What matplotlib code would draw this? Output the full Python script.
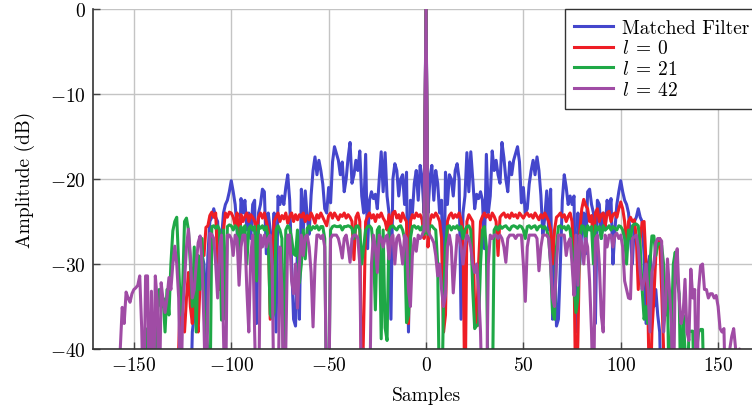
import matplotlib
matplotlib.use("Agg")
import matplotlib.pyplot as plt
import numpy as np

F = -48.0  # below the visible range (clipped at the axis bottom)

# ---------------- data (sample index start, values) ----------------
mf_start = -121
mf_vals = [F,
    -38, -36, -33, -35, -31, -29, -30, -37, -29, -25,
    -24.5, -23.5, -24.5, -25, -30, -27, -24, -23, -22.5, -21.5,
    -20.2, -21.5, -23, -26, -30, -22.3, -24, -22.5, -26, -24,
    -27, -23, -22.5, -37, -24, -23, -21.2, -21.5, -28.8, -24,
    -26, -30, -24, -38, -22, -23, -22, -23, -21, -19.5,
    -22.5, -30, -36.5, -37.3, -28, -36.5, -21.2, -26, -21.4, -24.5,
    -26.5, -21.9, -19, -17.4, -19.5, -17.8, -19, -20.6, -23.5, -24,
    -21, -22.8, -18, -16.2, -17, -17.8, -19.5, -18, -21.5, -20,
    -17.5, -15.7, -20.5, -19.5, -17.8, -19, -16.7, -22, -24, -17.1,
    -28.2, -22.5, -21.5, -22.3, -21.8, -23.5, -20, -16.8, -21.5, -16.9,
    -22, -24, -36.5, -20, -18.2, -19, -22, -20, -19.5, -23,
    -19.2, -38, -22.5, -24, -20.5, -19, -22.5, -18.4, -20, -24,
    0,
    -24, -20, -18.4, -22.5, -19, -20.5, -24, -22.5, -38, -19.2,
    -23, -19.5, -20, -22, -19, -18.2, -20, -36.5, -24, -22,
    -16.9, -21.5, -16.8, -20, -23.5, -21.8, -22.3, -21.5, -22.5, -28.2,
    -17.1, -24, -22, -16.7, -19, -17.8, -19.5, -20.5, -15.7, -17.5,
    -20, -21.5, -18, -19.5, -17.8, -17, -16.2, -18, -22.8, -21,
    -24, -23.5, -20.6, -19, -17.8, -19.5, -17.4, -19, -21.9, -26.5,
    -24.5, -21.4, -26, -21.2, -36.5, -28, -37.3, -36.5, -30, -22.5,
    -19.5, -21, -23, -22, -23, -22, -38, -24, -30, -26,
    -24, -28.8, -21.5, -21.2, -23, -24, -37, -22.5, -23, -27,
    -24, -26, -22.5, -24, -22.3, -30, -26, -23, -21.5, -20.2,
    -21.5, -22.5, -23, -24, -27, -30, -25, -24.5, -23.5, -24.5,
    -25, -29, -37, -30, -29, -31, -35, -33, -36, -38,
    F]

l0_start = -128
l0_vals = [F,
    -40, -33, -36, -38, -34, -31, -35, -37, -33, -36,
    -38, -32, -29, -29, -25.7, -25.5, -24.3, -23.9, -24.5, -24,
    -30, -33, -29, -26, -24, -24.5, -23.9, -24, -24.5, -25.5,
    -24, -28, -24.2, -25, -24.4, -24, -25, -24.2, -24.5, -25,
    -26, -24.5, -24, -24.6, -24, -25, -26, -36.5, -30, -25,
    -24.5, -24, -25, -24.3, -24.7, -24, -25.2, -24.4, -24, -25,
    -24.2, -24.8, -24.2, -24.5, -24, -25, -24.3, -24.8, -24, -24.5,
    -25.2, -24.2, -24.6, -24, -24.5, -25, -25.5, -24.3, -24, -24.6,
    -24, -24.4, -24.8, -24.2, -24.4, -24, -24.6, -24.2, -24.5, -25,
    -29.5, -24.5, -24, -25, F, -37, -25, -24.4, -24, -24.6,
    -24.2, -25, -24.2, -24.5, -24, -24.6, -25, -26, -24.2, -25.5,
    -24, -23.8, -24.6, -24.2, -25, -24, -24.6, -25, -37, -25,
    -24.2, -24.6, -24, -24.4, -24.2, -24.8, -27,
    0,
    -28, -25, -24.2, -24.5, -24, -24.4, -25, -27, -38, -36,
    -25, -24.3, -24, -24.6, -24.2, -24.5, -24, -24.8, -26, F,
    -25, -24.2, -24.6, -25, -35.5, -37.3, -30, -25, -24.4, -24,
    -24.5, -24.2, -24.8, -24, -24.4, -25, -29, -24.5, -24.2, -24,
    -24.5, -24.2, -24.6, -24, -24.4, -24.2, -24.6, -24, -24.3, -24.6,
    -24.2, -24, -24.4, -24.2, -24.6, -24, -24.4, -24.8, -24.2, -24.6,
    -24, -24.5, -25, -26, -30, -26, -24.5, -24.3, -24, -24.5,
    -24.2, -25, -24.4, -24, -25, -30, F, -39, -26, -23.5,
    -22.4, -23.1, -23.5, -25, -24.3, -28, -24, -23.5, -25, -24.2,
    -24, -25.5, -24, -23.8, -25, -24.2, -24, -24.5, -23.5, -22.7,
    -23.5, -25, -28, -25, -24.5, -25, -24.8, -27, -33, -27,
    -25.1, -25, -30, -36, F, -38, -34, -29, -27.3, -27, -33, -40,
    F]

l21_start = -146
l21_vals = [F,
    -40, -37.6, F, -40, F, F, -40, -36, -33, -35,
    -34, -38, -33, -36, -30, -26.1, -25, -24.5, -30, -36,
    -33, -25, -24.6, -26, -30, -35, -28, -38, -29, -33,
    -27, -35, -38, -40, F, -25.6, -25.5, -25.8, -25.5, -26,
    -36.6, -26, -36.5, -25.6, -25.4, -25.5, -26, -25.5, -25.8, -30,
    -25.6, -27, -25.5, -30, -25.8, -25.5, -26, -25.6, -32, -25.5,
    -25.8, -25.5, -26, -25.6, -27, -35.9, -36.4, -35.7, -26, -25.5,
    -26, -27, F, -26, -25.5, -25.8, -27, -28.8, -29, -26,
    -32.2, -30, -26, -29.4, -25.8, -25.5, -26, -25.6, -25.8, -25.5,
    -26, -25.6, -25.6, -27, F, F, -26, -25.6, -25.5, -25.6,
    -25.6, -25.5, -26, -25.6, -25.6, -25.5, -25.6, -25.8, -27, -25.6,
    -25.5, -26, -30, -28, -26, -25.6, -25.5, -25.8, -28, -35.4,
    -26, -25.6, -38.8, -26, -37.5, -39, -26, -25.6, -25.5, -25.8,
    -26, -25.6, -25.5, -26, -27, -36.9, -36, -27, -25.6, -25.5,
    -25.8, -25.6, -26, -25.6, -26.5,
    0,
    -26.5, -25.6, -25.5, -25.8, -26, -30, F, F, -34.5, -28,
    -25.6, -25.5, -26, -25.6, -25.8, -25.5, -26, -25.6, -27, -26,
    -25.6, -25.5, -26, -33, -37.6, -37.2, -37.2, -30, -26, -25.6,
    -28, F, F, F, -26, -25.6, -26, -25.5, -25.8, -25.6,
    -25.5, -25.8, -26, -25.6, -25.5, -25.6, -25.8, -25.5, -25.6, -26,
    -27, -25.6, -25.5, -25.8, -25.6, -25.5, -26, -25.6, -25.5, -25.8,
    -25.6, -26, -27, -30, -35.7, -36.5, -28, -25.6, -25.5, -25.8,
    -25.6, -26, -25.5, -26, -28, -32.7, -35.7, -34, -27, -25.5,
    -25.6, -27, -25.5, -26, -25.6, -30, -25.5, -26, -25.6, -27,
    -25.5, -26, -25.8, -25.5, -26, -25.6, -25.8, -26, -25.5, -25.6,
    -26, -27, -30, -26, -27, -25.5, -25.3, -25.3, -25.5, -28,
    -33, -36.5, -35, -37, -30, -26.7, -26.7, -29, -27.6, -27.6,
    -27.8, -30, -36, -33, F, -38, -30, -28.6, -32, -33.5,
    F, -36, -40, F, -38, -37.9, -37.9, F, -40, -38, -37.7, -37.7,
    F]

l42_start = -158
l42_vals = [F,
    -40, -35.1, -37, -33.3, -34, -34.5, -33.5, -33, -32.8, -32.5,
    -31.4, -37.5, F, -31.4, -31.4, F, -33.2, F, -31.4, -34.3,
    F, -32.2, -34.3, -35.7, -34, -31.6, -33, -30, -27.9, -30,
    -34, F, -36, -32, -28, -25.9, -29, -34, -33, -30,
    -27.5, -26.7, -30, -37.3, F, -35, -26.4, -26.5, -27, -30,
    -34, -28, -26.6, -38.3, F, -26.6, -26.6, -27, -29, -26.6,
    -27, -32.5, -28, -26.6, -26.6, -33, -38, -29, -26.6, -38,
    F, F, -26.6, -28, -26.6, -28, -27, -26.6, -30, F,
    F, F, -28, -33, F, -40, -26.6, -26.6, -32, -33.5,
    -30, -35.2, -30, -26.6, -29, -26.8, -26.6, -28, -31, -37.4,
    -30, -26.6, -26.6, -27, -26.6, -28, F, F, -27, -26.6,
    -26.6, -26.6, -27, -28, -29.3, -27, -26.6, -28, -29.8, -27,
    -26.6, -26.6, -27, -30, F, -40, F, F, F, -30,
    -26.6, -28, -31, -26.6, -27, -28, -27, -26.6, -29.4, -27,
    -26.6, -30, -27, -26.6, -28, -30, -26.6, -27, -33, -35,
    -29, -27, -28.5, -26.6, -27, -26.6, -26,
    0,
    -26, -26.6, -27, -27.5, -29, -31.4, -30, -33, -35, -33.7,
    -28, -26.6, -28, -33.4, -30, -26.6, -27, -28, -30, -28,
    -26.6, -27, -28, -30, -31, -30, -33, -38, F, F,
    F, -30, -26.6, -27, -26.6, -26.6, -27, -26.6, -27, -28,
    -29.8, -27, -26.6, -26.6, -26.6, -27, -26.6, -26.6, -26.6, -30,
    -34.4, -28, -26.6, -26.6, -26.6, -26.6, -27, -30.8, -28, -26.6,
    -26.6, -26.6, -27, -30, -34, -35, -30, -26.6, -26.6, -26.6,
    -26.6, -29, -27.5, -27, -30, -33.7, -26.6, -32.5, -26.6, -27.5,
    -30, -27, -28, -32, -38, F, -27, -26.6, -30, -36,
    -38, -26.6, -28, -26.6, -26.6, -28, -26.6, -26.4, -27, -26.6,
    -28, -32, -33, -34, -34.1, -27, -26.8, -26.6, -28, -31,
    -33, -32, -30, -33, -38, -31, -30, -27.5, -27, -27,
    -27.3, -38, -35, -29.4, -33, -37, F, -30, -28.2, -34,
    -37, -36, -31.8, -38, -39, -30.6, -34, -33, F, -33,
    -30.2, -30, -33, -33, -34, -33.5, -33.5, -34, -33.7, -35,
    -37.6, -38, -37.6, F, -44, -40, -38.5, -37.6, -40, -43, -40,
    F]

series_labels = ["Matched Filter", r"$l\;=\,0$", r"$l\;=\,21$", r"$l\;=\,42$"]
series_colors = ["#4446cc", "#ee1d25", "#1fa846", "#a04ca5"]
x_ticks = [-150, -100, -50, 0, 50, 100, 150]
y_ticks = [-40, -30, -20, -10, 0]

# ---------------- styling ----------------
plt.rcParams.update({
    "font.family": "serif",
    "font.serif": ["cmr10", "DejaVu Serif"],
    "mathtext.fontset": "cm",
    "axes.formatter.use_mathtext": True,
    "font.size": 14,
})

fig = plt.figure(figsize=(7.52, 4.10), dpi=100)
ax = fig.add_axes([93 / 752, 60 / 410, 666 / 752, 340 / 410])

series = [(mf_start, mf_vals), (l0_start, l0_vals),
          (l21_start, l21_vals), (l42_start, l42_vals)]
for (start, vals), lab, col in zip(series, series_labels, series_colors):
    x = np.arange(start, start + len(vals))
    ax.plot(x, vals, color=col, linewidth=2.2, label=lab)

ax.set_xlim(-171, 171)
ax.set_ylim(-40, 0)
ax.set_xticks(x_ticks)
ax.set_yticks(y_ticks)
ax.grid(True, color="#c4c4c4", linewidth=1.0)
ax.set_axisbelow(True)

for s in ["top", "right"]:
    ax.spines[s].set_visible(False)
for s in ["left", "bottom"]:
    ax.spines[s].set_color("#333333")
    ax.spines[s].set_linewidth(1.2)

ax.tick_params(direction="in", length=5, width=1, color="#444444",
               top=False, right=False, pad=5)

ax.set_xlabel("Samples", labelpad=9)
ax.set_ylabel("Amplitude (dB)", labelpad=11)

leg = ax.legend(loc="upper right", borderaxespad=0, fancybox=False,
                edgecolor="#333333", framealpha=1, handlelength=2.0,
                handletextpad=0.45, labelspacing=0.14, borderpad=0.5)
leg.get_frame().set_linewidth(1.0)

fig.savefig("out.png", dpi=100)
